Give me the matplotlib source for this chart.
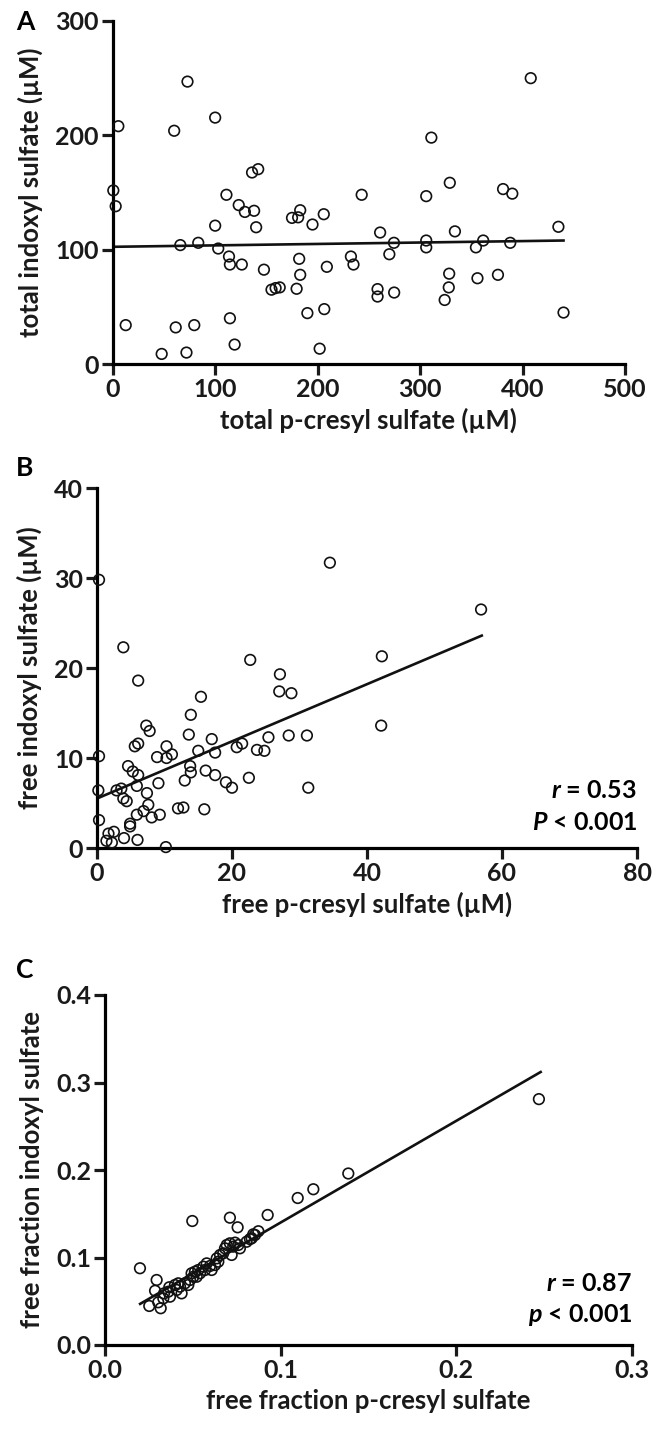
import matplotlib
matplotlib.use("Agg")
import matplotlib.pyplot as plt
import numpy as np

plt.rcParams['font.family'] = ['Lato', 'DejaVu Sans']
plt.rcParams['font.weight'] = 'bold'
plt.rcParams['mathtext.fontset'] = 'custom'
plt.rcParams['mathtext.it'] = 'Lato:italic:bold'
plt.rcParams['mathtext.rm'] = 'Lato:bold'

# panel A: total concentrations
total_pcs = [73, 5.5, 60, 100, 136, 142, 0.6, 111, 243, 311, 306, 329, 381, 408, 390,
             2.9, 123, 129, 138, 100, 140, 175, 181, 183, 195, 206, 261, 334, 274.5, 306,
             306, 354.5, 361.6, 388, 66, 83.5, 103, 113.5, 114.4, 126, 147.6, 182, 183, 209,
             232.5, 235, 270, 258.5, 258.5, 274.7, 328.4, 328, 324, 356, 376, 155, 159, 163,
             179.5, 190, 206.5, 114.4, 12.7, 61.5, 79.6, 119, 47.8, 72, 202, 435, 440]
total_is = [247, 208, 204, 215.5, 167.5, 170.4, 151.8, 148, 148, 198, 146.8, 158.5, 153, 250, 149,
            138, 139, 133, 134, 121, 119.6, 127.8, 128.3, 134.5, 122, 131, 115, 116, 106, 108,
            102, 102, 108, 106, 104, 106, 101, 94, 87, 87, 82.5, 92, 78, 85,
            94, 87, 96, 65.5, 59, 62.5, 79, 67, 56, 75, 78, 65, 66.4, 67,
            65.8, 44.5, 48, 40, 34, 32, 34, 17, 8.8, 10, 13.4, 120, 45]
fit_a_x = [0, 440]
fit_a_y = [102.5, 108]

# panel B: free concentrations
free_pcs = [3.9, 6.1, 22.7, 27.1, 27.0, 28.8, 15.4, 13.9, 7.3, 7.8, 13.6, 17.0, 25.4, 28.4, 31.1,
            5.6, 6.1, 10.3, 8.9, 10.3, 11.1, 15.0, 17.5, 20.7, 21.5, 23.7, 24.8, 0.3, 4.6, 5.3,
            6.1, 13.8, 13.9, 16.1, 17.5, 19.1, 20.0, 22.5, 31.3, 0.2, 2.9, 3.6, 5.9, 9.1, 13.0,
            3.9, 4.4, 7.4, 7.6, 6.9, 5.9, 8.1, 9.3, 12.0, 12.8, 15.9, 0.3, 4.9, 4.9, 1.7,
            2.5, 1.4, 4.0, 6.0, 10.2, 0.3, 34.5, 56.9, 42.2, 42.1, 2.2]
free_is = [22.3, 18.6, 20.9, 19.3, 17.4, 17.2, 16.8, 14.8, 13.6, 13.0, 12.6, 12.1, 12.3, 12.5, 12.5,
           11.3, 11.6, 11.3, 10.1, 10.0, 10.4, 10.8, 10.6, 11.2, 11.6, 10.9, 10.8, 10.2, 9.1, 8.5,
           8.1, 9.1, 8.4, 8.6, 8.1, 7.3, 6.7, 7.8, 6.7, 6.4, 6.4, 6.6, 6.9, 7.2, 7.5,
           5.5, 5.2, 6.1, 4.8, 4.1, 3.7, 3.4, 3.7, 4.4, 4.5, 4.3, 3.1, 2.7, 2.4, 1.6,
           1.8, 0.8, 1.1, 0.9, 0.1, 29.8, 31.7, 26.5, 21.3, 13.6, 0.6]
fit_b_x = [0, 57]
fit_b_y = [5.5, 23.6]

# panel C: free fractions
ff_pcs = [0.1385, 0.1186, 0.1097, 0.0926, 0.0711, 0.0755, 0.0497, 0.0873, 0.0844, 0.0825,
          0.0199, 0.0294, 0.0285, 0.0252, 0.0317, 0.0303, 0.0332, 0.0370, 0.0360, 0.0336,
          0.0408, 0.0417, 0.0427, 0.0436, 0.0484, 0.0503, 0.0493, 0.0522, 0.0531, 0.0560,
          0.0541, 0.0579, 0.0569, 0.0607, 0.0626, 0.0636, 0.0655, 0.0645, 0.0673, 0.0683,
          0.0693, 0.0711, 0.0721, 0.0730, 0.0740, 0.0759, 0.0768, 0.0806, 0.0835, 0.0854,
          0.0455, 0.0474, 0.0598, 0.0512, 0.0398, 0.0366, 0.247]
ff_is = [0.196, 0.178, 0.168, 0.1486, 0.1455, 0.1345, 0.1417, 0.130, 0.1265, 0.121,
         0.0877, 0.0743, 0.062, 0.0446, 0.042, 0.0488, 0.0533, 0.0552, 0.0609, 0.059,
         0.0629, 0.0705, 0.0667, 0.059, 0.0743, 0.078, 0.082, 0.078, 0.0857, 0.0895,
         0.082, 0.0933, 0.0857, 0.0857, 0.0914, 0.099, 0.1029, 0.0952, 0.1048, 0.1105,
         0.1143, 0.1162, 0.1029, 0.1124, 0.117, 0.1143, 0.1105, 0.118, 0.122, 0.1257,
         0.0705, 0.0686, 0.0903, 0.0838, 0.0686, 0.066, 0.281]
fit_c_x = [0.02, 0.248]
fit_c_y = [0.047, 0.312]

W, H = 662, 1435
fig = plt.figure(figsize=(W / 100, H / 100), dpi=100)


def make_axes(left, right, top, bottom):
    return fig.add_axes([left / W, 1 - bottom / H, (right - left) / W, (bottom - top) / H])


def style(ax, xlim, ylim, xticks, yticks, xfmt, yfmt, xlabel, ylabel):
    for s in ['top', 'right']:
        ax.spines[s].set_visible(False)
    for s in ['left', 'bottom']:
        ax.spines[s].set_linewidth(2.3)
    ax.set_xlim(xlim)
    ax.set_ylim(ylim)
    ax.set_xticks(xticks)
    ax.set_yticks(yticks)
    ax.set_xticklabels([xfmt.format(v) for v in xticks])
    ax.set_yticklabels([yfmt.format(v) for v in yticks])
    ax.tick_params(width=2.3, length=8, labelsize=18, pad=2, colors='#1a1a1a')
    ax.set_xlabel(xlabel, fontsize=18.5, fontweight='bold', labelpad=5, color='#1a1a1a')
    ax.set_ylabel(ylabel, fontsize=18.5, fontweight='bold', labelpad=9, color='#1a1a1a')


def scatter(ax, x, y):
    ax.scatter(x, y, s=58, facecolors='none', edgecolors='#111111', linewidths=1.2,
               clip_on=False, zorder=3)


# A
axA = make_axes(112.7, 625, 21, 364)
scatter(axA, total_pcs, total_is)
axA.plot(fit_a_x, fit_a_y, color='#111111', lw=1.9)
style(axA, (0, 500), (0, 300), [0, 100, 200, 300, 400, 500], [0, 100, 200, 300],
      '{:.0f}', '{:.0f}', 'total p-cresyl sulfate (\u00b5M)', 'total indoxyl sulfate (\u00b5M)')

# B
axB = make_axes(97, 637, 488, 848)
scatter(axB, free_pcs, free_is)
axB.plot(fit_b_x, fit_b_y, color='#111111', lw=1.9)
style(axB, (0, 80), (0, 40), [0, 20, 40, 60, 80], [0, 10, 20, 30, 40],
      '{:.0f}', '{:.0f}', 'free p-cresyl sulfate (\u00b5M)', 'free indoxyl sulfate (\u00b5M)')
axB.text(1.0, 0.16, '$r$ = 0.53', transform=axB.transAxes, ha='right', va='center', fontsize=18)
axB.text(1.0, 0.07, '$P$ < 0.001', transform=axB.transAxes, ha='right', va='center', fontsize=18)

# C
axC = make_axes(105, 632, 995, 1345)
scatter(axC, ff_pcs, ff_is)
axC.plot(fit_c_x, fit_c_y, color='#111111', lw=1.9)
style(axC, (0, 0.3), (0, 0.4), [0, 0.1, 0.2, 0.3], [0, 0.1, 0.2, 0.3, 0.4],
      '{:.1f}', '{:.1f}', 'free fraction p-cresyl sulfate', 'free fraction indoxyl sulfate')
axC.text(1.0, 0.177, '$r$ = 0.87', transform=axC.transAxes, ha='right', va='center', fontsize=18)
axC.text(1.0, 0.086, '$p$ < 0.001', transform=axC.transAxes, ha='right', va='center', fontsize=18)

# panel letters
fig.text(25 / W, 1 - 22 / H, 'A', fontsize=19, fontweight='bold', ha='center', va='center')
fig.text(25 / W, 1 - 468 / H, 'B', fontsize=19, fontweight='bold', ha='center', va='center')
fig.text(25 / W, 1 - 970 / H, 'C', fontsize=19, fontweight='bold', ha='center', va='center')

fig.savefig('out.png', dpi=100)
